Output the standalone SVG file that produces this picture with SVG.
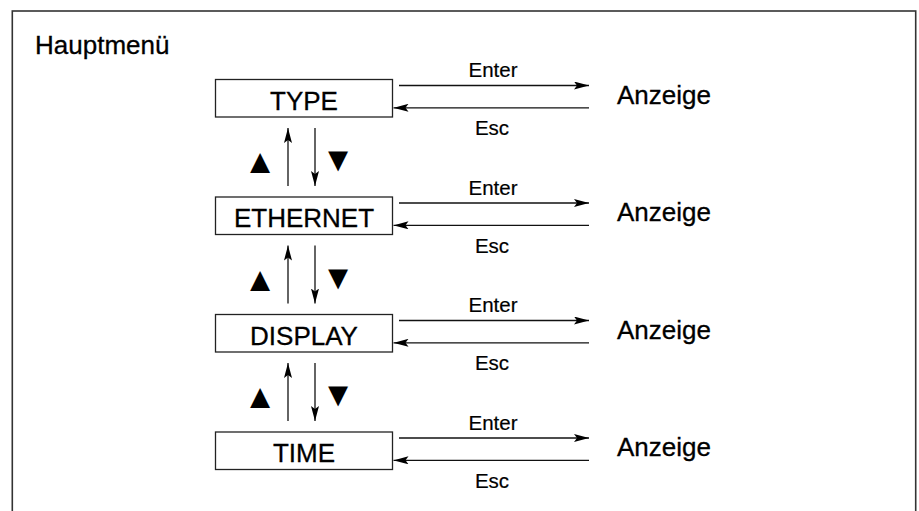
<svg xmlns="http://www.w3.org/2000/svg" width="919" height="511" viewBox="0 0 919 511">
<defs>
<marker id="ah" viewBox="0 0 15 8" refX="15" refY="4" markerWidth="15" markerHeight="8" markerUnits="userSpaceOnUse" orient="auto">
<path d="M0,0 L15,4 L0,8 L3,4 Z" fill="#000"/>
</marker>
<style>
.frame{fill:#fff;stroke:#333;stroke-width:1.6}
.box{fill:#fff;stroke:#222;stroke-width:1.3}
.big{font-family:"Liberation Sans",Arial,sans-serif;font-size:26px;fill:#000;stroke:#000;stroke-width:0.3}
.lbl{font-family:"Liberation Sans",Arial,sans-serif;font-size:20.5px;fill:#000;stroke:#000;stroke-width:0.2;text-anchor:middle}
.mid{text-anchor:middle}
.tri{font-family:"Liberation Sans","DejaVu Sans",sans-serif;font-size:34px;fill:#000;text-anchor:middle}
.ln{stroke:#111;stroke-width:1.3;fill:none;marker-end:url(#ah)}
</style>
</defs>
<rect x="0" y="0" width="919" height="511" fill="#fff"/>
<rect class="frame" x="12.3" y="11" width="903.4" height="520"/>
<text class="big" x="35" y="53.5">Hauptmenü</text>

<g id="type">
<rect class="box" x="215.5" y="79.5" width="177" height="37.5"/>
<text class="big mid" x="304" y="109.5">TYPE</text>
</g>
<g id="ethernet">
<rect class="box" x="215.5" y="197" width="177" height="37.5"/>
<text class="big mid" x="304" y="227">ETHERNET</text>
</g>
<g id="display">
<rect class="box" x="215.5" y="314.5" width="177" height="37.5"/>
<text class="big mid" x="304" y="344.5">DISPLAY</text>
</g>
<g id="time">
<rect class="box" x="215.5" y="432" width="177" height="37.5"/>
<text class="big mid" x="304" y="462">TIME</text>
</g>

<g id="anzeige1"><text class="big" x="617" y="103.5">Anzeige</text></g>
<g id="anzeige2"><text class="big" x="617" y="221">Anzeige</text></g>
<g id="anzeige3"><text class="big" x="617" y="338.5">Anzeige</text></g>
<g id="anzeige4"><text class="big" x="617" y="456">Anzeige</text></g>

<g id="connectors">
<line class="ln" x1="399" y1="85.5" x2="589" y2="85.5"/>
<line class="ln" x1="589" y1="107.8" x2="393.5" y2="107.8"/>
<line class="ln" x1="399" y1="203" x2="589" y2="203"/>
<line class="ln" x1="589" y1="225.3" x2="393.5" y2="225.3"/>
<line class="ln" x1="399" y1="320.5" x2="589" y2="320.5"/>
<line class="ln" x1="589" y1="342.8" x2="393.5" y2="342.8"/>
<line class="ln" x1="399" y1="438" x2="589" y2="438"/>
<line class="ln" x1="589" y1="460.3" x2="393.5" y2="460.3"/>

<line class="ln" x1="288" y1="186" x2="288" y2="128"/>
<line class="ln" x1="315" y1="128" x2="315" y2="186"/>
<line class="ln" x1="288" y1="303.5" x2="288" y2="245.5"/>
<line class="ln" x1="315" y1="245.5" x2="315" y2="303.5"/>
<line class="ln" x1="288" y1="421" x2="288" y2="363"/>
<line class="ln" x1="315" y1="363" x2="315" y2="421"/>
</g>

<g id="labels">
<text class="lbl" x="493" y="77">Enter</text>
<text class="lbl" x="492" y="135.3">Esc</text>
<text class="lbl" x="493" y="194.5">Enter</text>
<text class="lbl" x="492" y="252.8">Esc</text>
<text class="lbl" x="493" y="312">Enter</text>
<text class="lbl" x="492" y="370.3">Esc</text>
<text class="lbl" x="493" y="429.5">Enter</text>
<text class="lbl" x="492" y="487.8">Esc</text>

<text class="tri" x="260" y="173">▲</text>
<text class="tri" x="338" y="171">▼</text>
<text class="tri" x="260" y="290.5">▲</text>
<text class="tri" x="338" y="288.5">▼</text>
<text class="tri" x="260" y="408">▲</text>
<text class="tri" x="338" y="406">▼</text>
</g>
</svg>
